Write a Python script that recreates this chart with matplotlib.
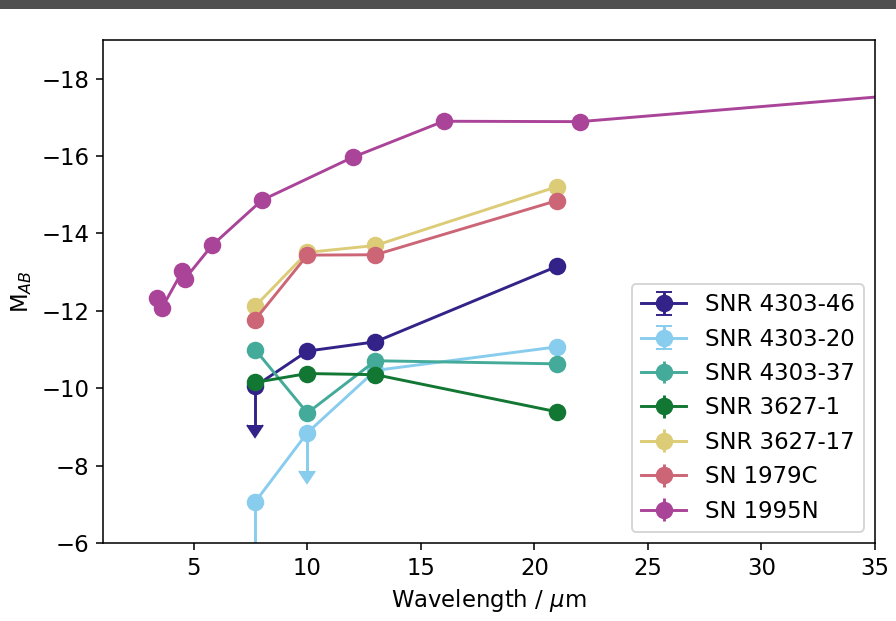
import matplotlib
matplotlib.use("Agg")
import matplotlib.pyplot as plt
from matplotlib.patches import Rectangle
import numpy as np

plt.rcParams["font.size"] = 11.7
plt.rcParams["lines.markersize"] = 8

# MIRI photometry of the remnants (AB magnitudes)
miri_wave = [7.7, 10.0, 13.0, 21.0]

snr_4303_46 = [-10.05, -10.96, -11.20, -13.15]
snr_4303_46_lim = [1.0, 0.0, 0.0, 0.0]

snr_4303_20 = [-7.06, -8.85, -10.46, -11.07]
snr_4303_20_lim = [1.4, 1.0, 0.0, 0.0]

snr_4303_37 = [-11.0, -9.36, -10.71, -10.63]
snr_3627_1 = [-10.15, -10.38, -10.35, -9.39]
snr_3627_17 = [-12.12, -13.51, -13.69, -15.21]
sn_1979c = [-11.77, -13.44, -13.45, -14.85]

# SN 1995N from IRAC / WISE / IRS / MIPS
sn_1995n_wave = [3.4, 3.6, 4.5, 4.6, 5.8, 8.0, 12.0, 16.0, 22.0, 70.0]
sn_1995n = [-12.33, -12.08, -13.03, -12.82, -13.69, -14.86, -15.97, -16.90, -16.89, -19.23]

colors = {
    "SNR 4303-46": "#332288",
    "SNR 4303-20": "#88CCEE",
    "SNR 4303-37": "#44AA99",
    "SNR 3627-1": "#117733",
    "SNR 3627-17": "#DDCC77",
    "SN 1979C": "#CC6677",
    "SN 1995N": "#AA4499",
}

fig = plt.figure(figsize=(896 / 140, 621 / 140), dpi=140)
ax = fig.add_axes([103 / 896, 1 - 543 / 621, (875 - 103) / 896, (543 - 40) / 621])
# faint magnitudes at the bottom: invert before drawing so limit arrows point down
ax.set_xlim(1, 35)
ax.set_ylim(-6, -19)

def draw(xs, ys, label, lim_len=None):
    xs = np.asarray(xs)
    ys = np.asarray(ys)
    if lim_len is None:
        lim_len = np.zeros(len(xs))
    lim_len = np.asarray(lim_len, dtype=float)
    ax.errorbar(xs, ys, yerr=lim_len, lolims=lim_len > 0, fmt="-o",
                color=colors[label], label=label)

draw(miri_wave, snr_4303_46, "SNR 4303-46", snr_4303_46_lim)
draw(miri_wave, snr_4303_20, "SNR 4303-20", snr_4303_20_lim)
draw(miri_wave, snr_4303_37, "SNR 4303-37")
draw(miri_wave, snr_3627_1, "SNR 3627-1")
draw(miri_wave, snr_3627_17, "SNR 3627-17")
draw(miri_wave, sn_1979c, "SN 1979C")
draw(sn_1995n_wave, sn_1995n, "SN 1995N")

ax.set_xlim(1, 35)
ax.set_ylim(-6, -19)
ax.set_yticks([-18, -16, -14, -12, -10, -8, -6])
ax.set_xticks([5, 10, 15, 20, 25, 30, 35])
ax.set_xlabel(r"Wavelength / $\mu$m")
ax.set_ylabel(r"M$_{AB}$")
ax.legend(loc="lower right")

fig.add_artist(Rectangle((0, 1 - 9 / 621), 1, 9 / 621, transform=fig.transFigure,
                         facecolor="#4f4f4f", edgecolor="none"))

fig.savefig("out.png", dpi=140)
